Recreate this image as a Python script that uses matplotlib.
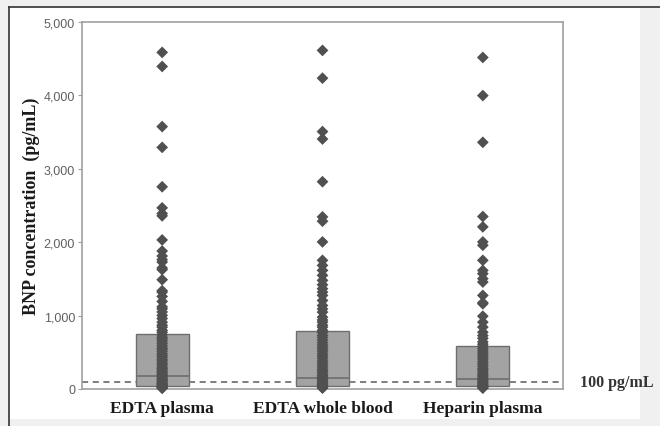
import matplotlib
matplotlib.use('Agg')
import matplotlib.pyplot as plt
from matplotlib.patches import Rectangle
from matplotlib.lines import Line2D
from matplotlib.ticker import FuncFormatter

# groups and box summaries (pg/mL)
groups = ['EDTA plasma', 'EDTA whole blood', 'Heparin plasma']
q1 = [45, 42, 40]
medians = [180, 150, 137]
q3 = [752, 792, 587]
cutoff = 100

edta_plasma = [4586, 4394, 3575, 3292, 2755, 2468, 2391, 2359, 2031, 1880, 1812,
               1762, 1730, 1649, 1626, 1489, 1339, 1320, 1261, 1193, 1120, 1093,
               1050, 1002, 960, 911, 870, 843, 800, 774, 740, 705, 680, 650, 620,
               590, 560, 540, 510, 480, 455, 430, 400, 380, 350, 330, 300, 280,
               260, 240, 220, 200, 185, 170, 150, 135, 120, 110, 95, 80, 70, 60,
               50, 40, 30, 20, 15, 10]
edta_blood = [4613, 4235, 3507, 3406, 2824, 2345, 2286, 2004, 1753, 1684, 1616,
              1548, 1480, 1420, 1366, 1320, 1275, 1206, 1138, 1090, 1047, 979,
              940, 911, 870, 843, 800, 770, 730, 700, 665, 630, 600, 570, 540,
              510, 480, 450, 420, 390, 360, 330, 300, 270, 250, 225, 200, 180,
              160, 140, 125, 110, 95, 80, 65, 50, 40, 30, 20, 12]
heparin_plasma = [4517, 3998, 3361, 2350, 2209, 2004, 1958, 1753, 1616, 1571,
                  1503, 1457, 1275, 1175, 1161, 992, 911, 843, 774, 728, 690,
                  642, 610, 580, 550, 520, 490, 460, 430, 400, 370, 340, 310,
                  280, 255, 230, 205, 185, 165, 145, 125, 110, 95, 80, 65, 50,
                  40, 30, 20, 12]
values = [edta_plasma, edta_blood, heparin_plasma]

fig = plt.figure(figsize=(6.6, 4.27), dpi=100)
fig.patch.set_facecolor('#f0f0f0')
fig.add_artist(Rectangle((10 / 660, 1 - 420 / 427), 630 / 660, 412 / 427,
                         transform=fig.transFigure, facecolor='white',
                         edgecolor='none', zorder=0))
fig.add_artist(Line2D([9 / 660, 1], [1 - 8 / 427, 1 - 8 / 427],
                      transform=fig.transFigure, color='#333333', lw=1.2))
fig.add_artist(Line2D([9 / 660, 9 / 660], [0, 1 - 8 / 427],
                      transform=fig.transFigure, color='#333333', lw=1.2))

ax = fig.add_axes([82 / 660, 1 - 390 / 427, 481 / 660, 367 / 427])
ax.set_facecolor('white')

positions = list(range(len(groups)))
stats = []
for i in positions:
    stats.append({'q1': q1[i], 'med': medians[i], 'q3': q3[i],
                  'whislo': q1[i], 'whishi': q3[i], 'fliers': []})
ax.bxp(stats, positions=positions, widths=0.33, patch_artist=True,
       showcaps=False, showfliers=False,
       boxprops=dict(facecolor='#a3a3a3', edgecolor='#6e6e6e', lw=1.0),
       medianprops=dict(color='#6e6e6e', lw=1.2),
       whiskerprops=dict(color='#6e6e6e', lw=0), zorder=3)

for i, v in enumerate(values):
    ax.scatter([positions[i]] * len(v), v, marker='D', s=36, color='#505050',
               edgecolors='none', zorder=4, clip_on=False)

ax.axhline(cutoff, color='#5a5a5a', lw=1.1, ls=(0, (4, 3)), zorder=2)
ax.text(1.036, cutoff, '100 pg/mL', transform=ax.get_yaxis_transform(),
        ha='left', va='center', fontsize=11.5, fontweight='bold',
        family='Liberation Serif', color='#333333')

ax.set_xlim(-0.5, 2.5)
ax.set_ylim(0, 5000)
ax.set_yticks([0, 1000, 2000, 3000, 4000, 5000])
ax.yaxis.set_major_formatter(FuncFormatter(lambda x, p: f'{int(x):,}'))
ax.set_xticks(positions)
ax.set_xticklabels(groups, fontsize=12.5, fontweight='bold',
                   family='Liberation Serif', color='#1a1a1a')
ax.tick_params(axis='x', length=0, pad=8)
ax.tick_params(axis='y', length=3, color='#a0a0a0', labelsize=9,
               labelcolor='#606060', pad=2)
for lab in ax.get_yticklabels():
    lab.set_family('Liberation Sans')
for s in ax.spines.values():
    s.set_color('#a0a0a0')
    s.set_linewidth(1.2)

ax.set_ylabel('BNP concentration  (pg/mL)', fontsize=13, fontweight='bold',
              family='Liberation Serif', color='#1a1a1a', labelpad=3)

fig.savefig('out.png', dpi=100, facecolor=fig.get_facecolor())
